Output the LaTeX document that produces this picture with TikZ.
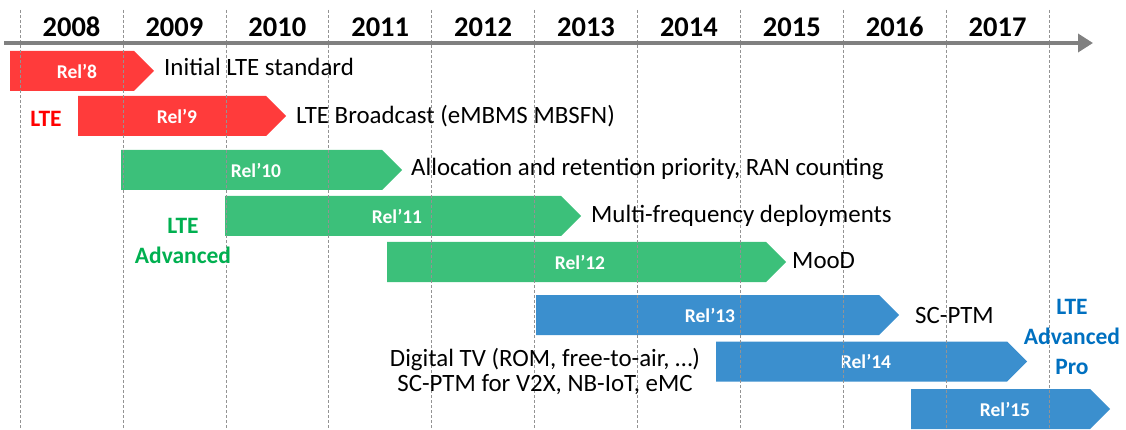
\documentclass[tikz,border=0pt]{standalone}
\usepackage{fontspec}
\setmainfont{Carlito}
\usetikzlibrary{arrows.meta}
\definecolor{ltered}{RGB}{255,59,59}
\definecolor{ltegreen}{RGB}{60,192,122}
\definecolor{lteblue}{RGB}{59,143,206}
\definecolor{txtgreen}{RGB}{0,176,80}
\definecolor{txtblue}{RGB}{0,112,192}
\begin{document}
\begin{tikzpicture}[x=1pt,y=-1pt,
    year/.style={anchor=base,inner sep=0pt,font=\fontsize{28.5}{30}\selectfont\bfseries},
    rel/.style={text=white,inner sep=0pt,font=\fontsize{19.5}{20}\selectfont\bfseries},
    desc/.style={anchor=base west,inner sep=0pt,font=\fontsize{24.9}{30}\selectfont},
    grp/.style={inner sep=0pt,align=center,font=\fontsize{23.5}{30}\selectfont\bfseries},
    grid/.style={gray!85,line width=0.5pt,dash pattern=on 3pt off 2pt}]
\useasboundingbox (0,0) rectangle (1126,430);
% releases
\foreach \n/\c/\a/\b/\m/\lx in {8/ltered/10/134/71/77,9/ltered/78/266/116/177,
    10/ltegreen/121/382/170/256,11/ltegreen/225/561/216/397,12/ltegreen/387/766/262/580,
    13/lteblue/536/879/315/710,14/lteblue/716/1007/361.5/866,15/lteblue/911/1090/409/1005}
  {\fill[\c] (\a,\m-20) -- (\b,\m-20) -- (\b+20,\m) -- (\b,\m+20) -- (\a,\m+20) -- cycle;
   \node[rel] (rel\n) at (\lx,\m) {Rel’\n};}
% years
\foreach \i/\yr in {0/2008,1/2009,2/2010,3/2011,4/2012,5/2013,6/2014,7/2015,8/2016,9/2017}
  \node[year] (y\yr) at (71.5+102.9*\i,37) {\yr};
\foreach \i in {0,...,10}
  \draw[grid] (20+102.9*\i,10) -- (20+102.9*\i,430);
\draw[line width=3.5pt,gray,-{Triangle[length=15pt,width=18pt]}] (4,43) -- (1093,43);
% features
\node[desc] (d8) at (164,76) {Initial LTE standard};
\node[desc] (d9) at (296,124) {LTE Broadcast (eMBMS MBSFN)};
\node[desc] (d10) at (411,176) {Allocation and retention priority, RAN counting};
\node[desc] (d11) at (591,223) {Multi-frequency deployments};
\node[desc] (d12) at (792,268.5) {MooD};
\node[desc] (d13) at (915,323.5) {SC-PTM};
\node[grp,font=\fontsize{24.9}{25}\selectfont] (d14) at (545,371.5) {Digital TV (ROM, free-to-air, …)\\SC-PTM for V2X, NB-IoT, eMC};
% generations
\node[grp,text=red] (lte) at (46,119) {LTE};
\node[grp,text=txtgreen] (ltea) at (183,241) {LTE\\Advanced};
\node[grp,text=txtblue] (lteapro) at (1072,337) {LTE\\Advanced\\Pro};
\end{tikzpicture}
\end{document}
